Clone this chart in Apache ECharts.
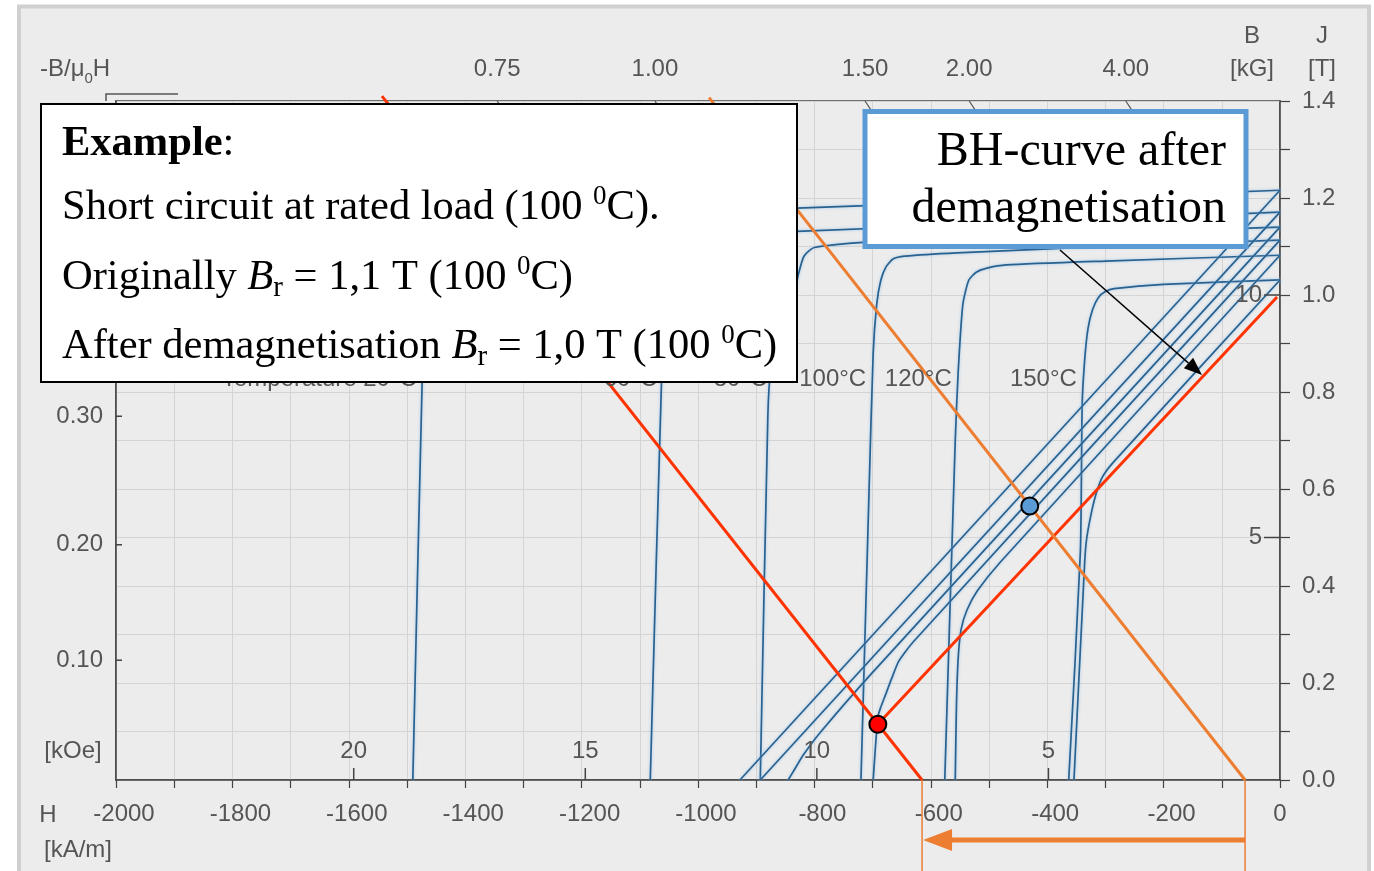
<!DOCTYPE html>
<html>
<head>
<meta charset="utf-8">
<title>Demagnetisation curves</title>
<script src="https://cdn.jsdelivr.net/npm/echarts@6/dist/echarts.min.js"></script>
<style>
html, body { margin: 0; padding: 0; background: #fff; }
#main { width: 1374px; height: 871px; }
</style>
</head>
<body>
<div id="main"></div>
<script>
// H in kA/m, J and B in T
var j20 = [[0,1.216],[-400,1.198],[-830,1.179],[-1200,1.163],[-1400,1.15],[-1440,1.135],[-1460,1.1],[-1468,1.0],[-1474,0.82],[-1490,0]];
var j60 = [[0,1.171],[-400,1.151],[-830,1.131],[-960,1.12],[-1020,1.105],[-1045,1.07],[-1055,0.98],[-1062,0.85],[-1082,0]];
var j80 = [[0,1.14],[-400,1.124],[-700,1.11],[-800,1.098],[-818,1.08],[-828,1.04],[-835,1.0],[-850,0.95],[-866,0.9],[-875,0.85],[-880,0.75],[-893,0]];
var j100 = [[0,1.113],[-300,1.1],[-555,1.087],[-645,1.08],[-665,1.074],[-677,1.058],[-686,1.03],[-693,0.98],[-699,0.88],[-706,0.6],[-720,0]];
var j120 = [[0,1.082],[-300,1.07],[-470,1.062],[-505,1.055],[-522,1.047],[-535,1.03],[-545,0.98],[-553,0.84],[-558,0.7],[-576,0]];
var j150 = [[0,1.031],[-200,1.022],[-285,1.013],[-300,1.007],[-312,0.995],[-322,0.97],[-330,0.93],[-336,0.86],[-340,0.77],[-343,0.47],[-363,0]];

var b20 = [[0,1.216],[-928,0]];
var b60 = [[0,1.171],[-893,0]];
var b80 = [[0,1.14],[-700,0.222],[-790,0.098],[-820,0.05],[-835,0.02],[-845,0]];
var b100 = [[0,1.113],[-630,0.285],[-655,0.245],[-667,0.21],[-678,0.175],[-686,0.15],[-691,0.13],[-699,0]];
var b120 = [[0,1.082],[-480,0.45],[-520,0.39],[-538,0.35],[-548,0.31],[-553,0.25],[-556,0.15],[-558,0]];
var b150 = [[0,1.031],[-285,0.657],[-305,0.625],[-316,0.59],[-326,0.54],[-333,0.49],[-336,0.44],[-354,0]];

var jCurves = [j20, j60, j80, j100, j120, j150];
var bCurves = [b20, b60, b80, b100, b120, b150];
var tempLabels = ['Temperature 20°C', '60°C', '80°C', '100°C', '120°C', '150°C'];
var tempLabelH = [-1483, -1070, -881, -711, -564, -349];
var tempLabelB = 0.826;

var redLoad = [[-615,0],[-1543,1.41]];
var orangeLoad = [[-60,0],[-981,1.407]];
var recoil = [[-5,0.996],[-691,0.115]];
var blueDot = [[-430,0.565]];
var redDot = [[-691,0.115]];

// secondary scales
var topPcLabels = ['0.75', '1.00', '1.50', '2.00', '4.00'];
var topPcH = [-1345, -1074, -713, -534, -265];
var leftPcLabels = ['0.10', '0.20', '0.30'];
var leftPcB = [0.247, 0.485, 0.75];
var kOeLabels = [20, 15, 10, 5];
var kGLabels = [5, 10];

var sans = 'Liberation Sans, Arial, sans-serif';
var serif = 'Liberation Serif, Times New Roman, serif';
var curveColor = '#29618f';

var series = [];
jCurves.concat(bCurves).forEach(function(d) {
  series.push({
    type: 'line', data: d, symbol: 'none', smooth: 0.2, z: 2,
    lineStyle: { color: curveColor, width: 1.7, shadowColor: 'rgba(140,190,235,0.8)', shadowBlur: 3 }
  });
});
series.push({ type: 'line', data: recoil, symbol: 'none', z: 4, lineStyle: { color: '#ff3300', width: 3 } });
series.push({ type: 'line', data: redLoad, symbol: 'none', z: 4, clip: false, lineStyle: { color: '#ff3300', width: 3 } });
series.push({ type: 'line', data: orangeLoad, symbol: 'none', z: 4, clip: false, lineStyle: { color: '#ed7d31', width: 3 } });
series.push({ type: 'scatter', data: blueDot, symbolSize: 17, z: 6, itemStyle: { color: '#5b9bd5', borderColor: '#000', borderWidth: 2, opacity: 1 } });
series.push({ type: 'scatter', data: redDot, symbolSize: 17, z: 6, itemStyle: { color: '#ff0000', borderColor: '#000', borderWidth: 2, opacity: 1 } });

var axisColor = '#444';
var labelColor = '#555';

var chart = echarts.init(document.getElementById('main'));
chart.setOption({
  backgroundColor: '#ffffff',
  animation: false,
  grid: { left: 116, right: 94, top: 101, bottom: 91, show: true, borderColor: axisColor, borderWidth: 1.5, backgroundColor: 'transparent' },
  xAxis: {
    type: 'value', min: -2000, max: 0, interval: 100,
    axisLine: { lineStyle: { color: axisColor, width: 1.5 } },
    axisTick: { length: 8, lineStyle: { color: axisColor, width: 1.2 } },
    axisLabel: {
      margin: 22, color: labelColor, fontSize: 24, fontFamily: sans,
      formatter: function(v) {
        if (Math.round(v) % 200 !== 0) return '';
        return v < 0 ? '{n|' + v + '}' : String(v);
      },
      rich: { n: { fontSize: 24, fontFamily: sans, color: labelColor, padding: [0, 0, 0, 16] } }
    },
    splitLine: { lineStyle: { color: '#d4d4d4', width: 1 } }
  },
  yAxis: [{
    type: 'value', position: 'right', min: 0, max: 1.4, interval: 0.1,
    axisLine: { show: true, lineStyle: { color: axisColor, width: 1.5 } },
    axisTick: { show: true, length: 10, lineStyle: { color: axisColor, width: 1.2 } },
    axisLabel: {
      margin: 22, color: labelColor, fontSize: 24, fontFamily: sans,
      formatter: function(v) { return Math.round(v * 10) % 2 === 0 ? v.toFixed(1) : ''; }
    },
    splitLine: { lineStyle: { color: '#d4d4d4', width: 1 } }
  }, {
    type: 'value', position: 'left', min: 0, max: 1.4,
    axisLine: { show: true, lineStyle: { color: axisColor, width: 1.5 } },
    axisTick: { show: false }, axisLabel: { show: false }, splitLine: { show: false }
  }],
  series: series
});

function px(h, b) { return chart.convertToPixel({ gridIndex: 0 }, [h, b]); }
function txt(x, y, s, opt) {
  opt = opt || {};
  return {
    type: 'text', x: x, y: y, z: opt.z || 20, silent: true,
    style: {
      text: s, fill: opt.fill || labelColor, fontSize: opt.size || 24, fontFamily: opt.family || sans,
      fontWeight: opt.weight || 'normal', align: opt.align || 'center', verticalAlign: 'middle', rich: opt.rich
    }
  };
}
function seg(x1, y1, x2, y2, color, w, z) {
  return { type: 'line', z: z || 20, silent: true, shape: { x1: x1, y1: y1, x2: x2, y2: y2 }, style: { stroke: color, lineWidth: w } };
}

var els = [];
// frame
els.push({ type: 'rect', z: -10, silent: true, shape: { x: 19, y: 6.5, width: 1350, height: 880 }, style: { fill: '#ececec', stroke: '#d0d0d0', lineWidth: 4 } });
els.push({ type: 'polyline', z: 20, silent: true, shape: { points: [[106, 101], [106, 94], [178, 94]] }, style: { stroke: '#555', lineWidth: 1.5, fill: null } });

// axis titles
els.push(txt(40, 69, '-B/μ{s|0}H', { align: 'left', rich: { s: { fontSize: 15, fontFamily: sans, fill: labelColor, verticalAlign: 'bottom', lineHeight: 34 } } }));
els.push(txt(1252, 36, 'B'));
els.push(txt(1252, 69, '[kG]'));
els.push(txt(1322, 36, 'J'));
els.push(txt(1322, 69, '[T]'));
els.push(txt(48, 815, 'H'));
els.push(txt(78, 850, '[kA/m]'));
els.push(txt(73, 751, '[kOe]'));

// top permeance labels and slanted ticks
topPcLabels.forEach(function(l, i) {
  var p = px(topPcH[i], 1.4);
  els.push(txt(p[0], 69, l));
  var q = px(topPcH[i] + 11, 1.38);
  els.push(seg(p[0], p[1], q[0], q[1], '#555', 1.2, 20));
});
// left permeance labels
leftPcLabels.forEach(function(l, i) {
  var p = px(-2000, leftPcB[i]);
  els.push(txt(p[0] - 13, p[1], l, { align: 'right' }));
  els.push(seg(p[0], p[1], p[0] + 6, p[1], axisColor, 1.5, 20));
});
// kOe ticks and labels
kOeLabels.forEach(function(k) {
  var p = px(-k * 79.5775, 0);
  els.push(txt(p[0], 751, String(k)));
  els.push(seg(p[0], p[1], p[0], p[1] - 12, axisColor, 1.5, 20));
});
// kG ticks and labels
kGLabels.forEach(function(k) {
  var p = px(0, k / 10);
  els.push(txt(p[0] - 18, p[1], String(k), { align: 'right' }));
  els.push(seg(p[0] - 16, p[1], p[0], p[1], axisColor, 1.5, 20));
});
// temperature labels (partly under the example box)
tempLabels.forEach(function(l, i) {
  var p = px(tempLabelH[i], tempLabelB);
  els.push(txt(p[0], p[1], l, { align: 'right', z: 8 }));
});

// example box
els.push({ type: 'rect', z: 100, silent: true, shape: { x: 41, y: 104, width: 756, height: 278 }, style: { fill: '#ffffff', stroke: '#000', lineWidth: 2 } });
var fs = 42.5;
var boxRich = {
  n: { fontSize: fs, fontFamily: serif, fill: '#000', lineHeight: 50 },
  b: { fontSize: fs, fontFamily: serif, fill: '#000', fontWeight: 'bold', lineHeight: 50 },
  i: { fontSize: fs, fontFamily: serif, fill: '#000', fontStyle: 'italic', lineHeight: 50 },
  sup: { fontSize: 27, fontFamily: serif, fill: '#000', verticalAlign: 'top', lineHeight: 27 },
  sub: { fontSize: 29, fontFamily: serif, fill: '#000', verticalAlign: 'bottom', lineHeight: 29 }
};
function boxLine(y, s) {
  return txt(62, y, s, { align: 'left', z: 101, fill: '#000', family: serif, size: fs, rich: boxRich });
}
els.push(boxLine(144, '{b|Example}{n|:}'));
els.push(boxLine(208, '{n|Short circuit at rated load (100 }{sup|0}{n|C).}'));
els.push(boxLine(278, '{n|Originally }{i|B}{sub|r}{n| = 1,1 T (100 }{sup|0}{n|C)}'));
els.push(boxLine(347, '{n|After demagnetisation }{i|B}{sub|r}{n| = 1,0 T (100 }{sup|0}{n|C)}'));

// blue annotation box
els.push({ type: 'rect', z: 100, silent: true, shape: { x: 865, y: 111.5, width: 381, height: 135 }, style: { fill: '#ffffff', stroke: '#5b9bd5', lineWidth: 5 } });
els.push(txt(1226, 152, 'BH-curve after', { align: 'right', z: 101, fill: '#000', family: serif, size: 48 }));
els.push(txt(1226, 209, 'demagnetisation', { align: 'right', z: 101, fill: '#000', family: serif, size: 48 }));

// black arrow from the box to the recoil line
(function() {
  var sx = 1060, sy = 250, tx = 1202, ty = 375;
  var dx = tx - sx, dy = ty - sy, len = Math.sqrt(dx * dx + dy * dy);
  var ux = dx / len, uy = dy / len, hl = 18, hw = 7;
  var bx = tx - ux * hl, by = ty - uy * hl;
  els.push(seg(sx, sy, bx, by, '#000', 1.5, 30));
  els.push({ type: 'polygon', z: 30, silent: true, shape: { points: [[tx, ty], [bx - uy * hw, by + ux * hw], [bx + uy * hw, by - ux * hw]] }, style: { fill: '#000' } });
})();

// orange shift arrow under the axis
(function() {
  var a = px(redLoad[0][0], 0), b = px(orangeLoad[0][0], 0);
  els.push(seg(a[0], a[1], a[0], 871, '#ed7d31', 1.5, 30));
  els.push(seg(b[0], b[1], b[0], 871, '#ed7d31', 1.5, 30));
  els.push(seg(b[0], 840, a[0] + 26, 840, '#ed7d31', 5, 30));
  els.push({ type: 'polygon', z: 30, silent: true, shape: { points: [[a[0] + 1, 840], [a[0] + 30, 829], [a[0] + 30, 851]] }, style: { fill: '#ed7d31' } });
})();

chart.setOption({ graphic: { elements: els } });
</script>
</body>
</html>
